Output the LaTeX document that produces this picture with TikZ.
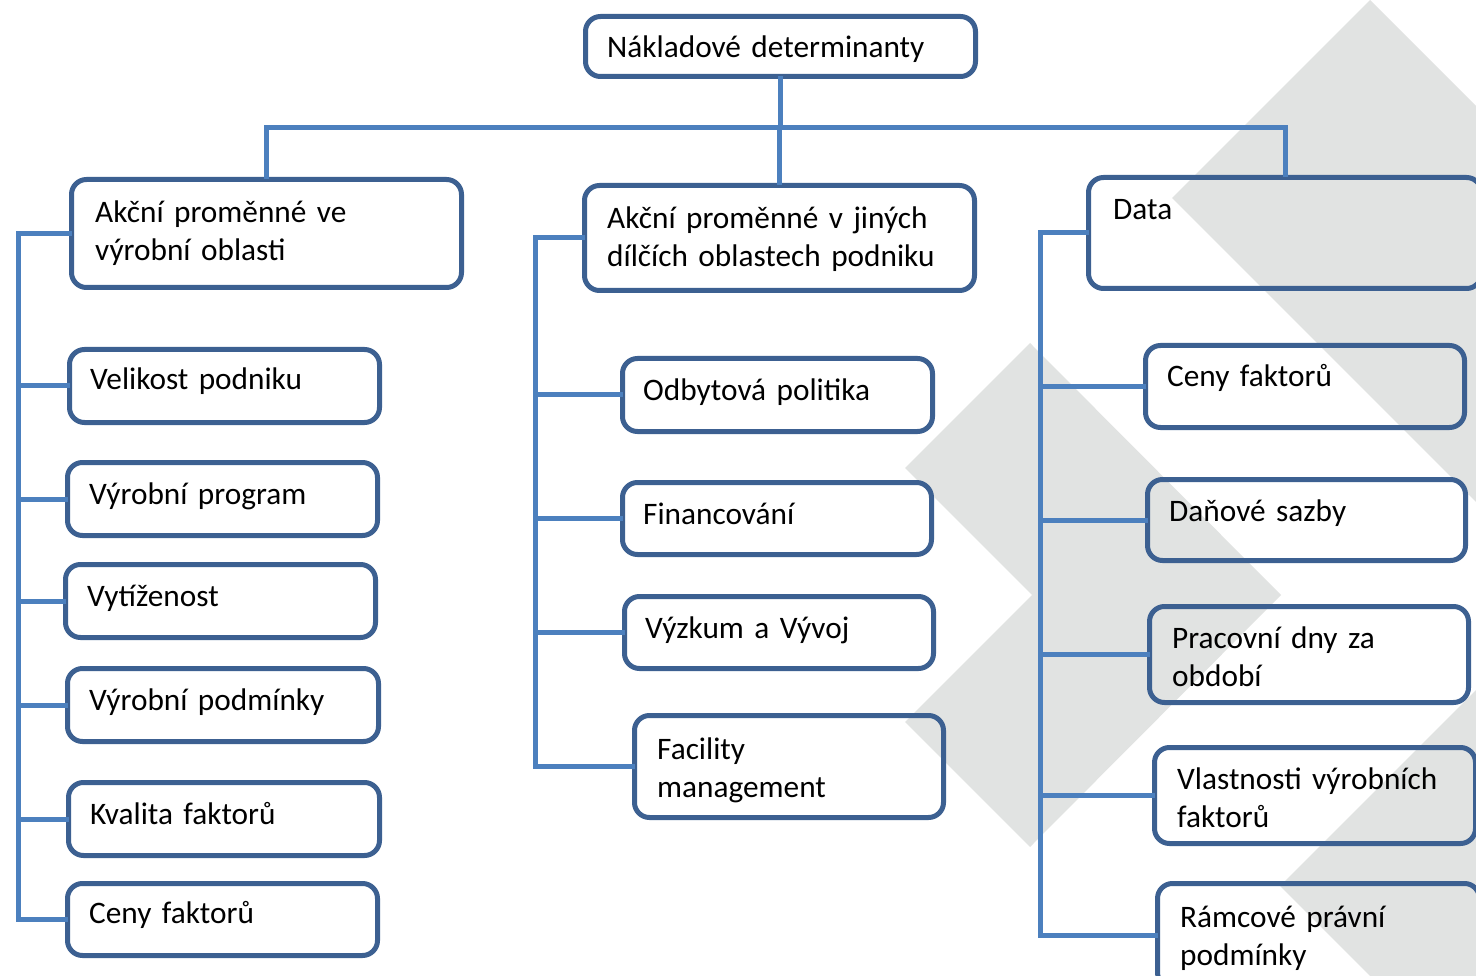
\documentclass[tikz,border=0pt]{standalone}
\usepackage{fontspec}
\setmainfont{Carlito}
\definecolor{boxc}{RGB}{60,96,145}
\definecolor{connc}{RGB}{76,128,190}
\definecolor{wm}{RGB}{225,227,226}
\tikzset{
  box/.style={draw=boxc, line width=5pt, rounded corners=15pt, anchor=north west, inner sep=0pt, outer sep=0pt},
  txt/.style={anchor=base west, inner sep=0pt, font=\fontsize{31.3}{38}\selectfont, text width=480pt, align=left, text=black},
  conn/.style={draw=connc, line width=5pt},
  wmark/.style={fill=wm, draw=none}
}
\newcommand{\rbox}[5]{\node[box, minimum width={#4-#2-5}, minimum height={#5-#3-5}] (#1) at ({#2+2.5},{#3+2.5}) {};}
\begin{document}
\begin{tikzpicture}[x=1pt,y=-1pt]
\useasboundingbox (0,0) rectangle (1476,976);
\clip (0,0) rectangle (1476,976);
\fill[white] (0,0) rectangle (1476,976);
% watermark shapes
\fill[wmark] (1030,343) -- (1281,595) -- (1030,847) -- (905,722) -- (1032,595) -- (905,468) -- cycle;
\fill[wmark] (1370,0) -- (1768,398) -- (1570,596) -- (1172,198) -- cycle;
\fill[wmark] (1478,688) -- (1876,1086) -- (1678,1284) -- (1280,886) -- cycle;
% boxes
\rbox{top}{583}{14}{978}{79}
\rbox{L}{69}{177}{464}{290}
\rbox{M}{582}{183}{977}{293}
\rbox{Data}{1086}{175}{1484}{291}
\rbox{LC1}{67}{347}{382}{425}
\rbox{LC2}{65}{460}{380}{538}
\rbox{LC3}{63}{562}{378}{640}
\rbox{LC4}{65}{666}{381}{744}
\rbox{LC5}{66}{780}{382}{858}
\rbox{LC6}{65}{881}{380}{958}
\rbox{MC1}{620}{356}{935}{434}
\rbox{MC2}{620}{480}{934}{557}
\rbox{MC3}{622}{594}{936}{671}
\rbox{MC4}{632}{713}{946}{820}
\rbox{RC1}{1143}{343}{1467}{430}
\rbox{RC2}{1145}{477}{1468}{563}
\rbox{RC3}{1147}{604}{1471}{705}
\rbox{RC4}{1152}{745}{1478}{846}
\rbox{RC5}{1155}{881}{1482}{990}
% texts
\node[txt] (top-t) at (607,58) {Nákladové determinanty};
\node[txt] (L-t) at (95,223) {Akční proměnné ve\\výrobní oblasti};
\node[txt] (M-t) at (607,229) {Akční proměnné v jiných\\dílčích oblastech podniku};
\node[txt] (Data-t) at (1113,220) {Data};
\node[txt] (LC1-t) at (90,390) {Velikost podniku};
\node[txt] (LC2-t) at (89,504) {Výrobní program};
\node[txt] (LC3-t) at (87,606) {Vytíženost};
\node[txt] (LC4-t) at (89,710) {Výrobní podmínky};
\node[txt] (LC5-t) at (90,824) {Kvalita faktorů};
\node[txt] (LC6-t) at (89,923) {Ceny faktorů};
\node[txt] (MC1-t) at (643,400) {Odbytová politika};
\node[txt] (MC2-t) at (643,524) {Financování};
\node[txt] (MC3-t) at (645,638) {Výzkum a Vývoj};
\node[txt] (MC4-t) at (657,759) {Facility\\management};
\node[txt] (RC1-t) at (1167,387) {Ceny faktorů};
\node[txt] (RC2-t) at (1169,521) {Daňové sazby};
\node[txt] (RC3-t) at (1172,648) {Pracovní dny za\\období};
\node[txt] (RC4-t) at (1177,789) {Vlastnosti výrobních\\faktorů};
\node[txt] (RC5-t) at (1180,927) {Rámcové právní\\podmínky};
% connectors
\coordinate (hy) at (0,128);
\coordinate (hub) at (top.south |- hy);
\draw[conn] (top.south) -- (hub);
\draw[conn] (L.north) |- (hub) -| (Data.north);
\draw[conn] (M.north) -- (M.north |- hub);
\coordinate (lbus) at ([xshift=-49.5pt]LC6.west);
\draw[conn] (L.west) -| (lbus) -- (LC6.west);
\foreach \n in {LC1,LC2,LC3,LC4,LC5} \draw[conn] (\n.west) -- (\n.west -| lbus);
\coordinate (mbus) at ([xshift=-99.5pt]MC4.west);
\draw[conn] (M.west) -| (mbus) -- (MC4.west);
\foreach \n in {MC1,MC2,MC3} \draw[conn] (\n.west) -- (\n.west -| mbus);
\coordinate (rbus) at ([xshift=-117.5pt]RC5.west);
\draw[conn] (Data.west) -| (rbus) -- (RC5.west);
\foreach \n in {RC1,RC2,RC3,RC4} \draw[conn] (\n.west) -- (\n.west -| rbus);
\end{tikzpicture}
\end{document}
